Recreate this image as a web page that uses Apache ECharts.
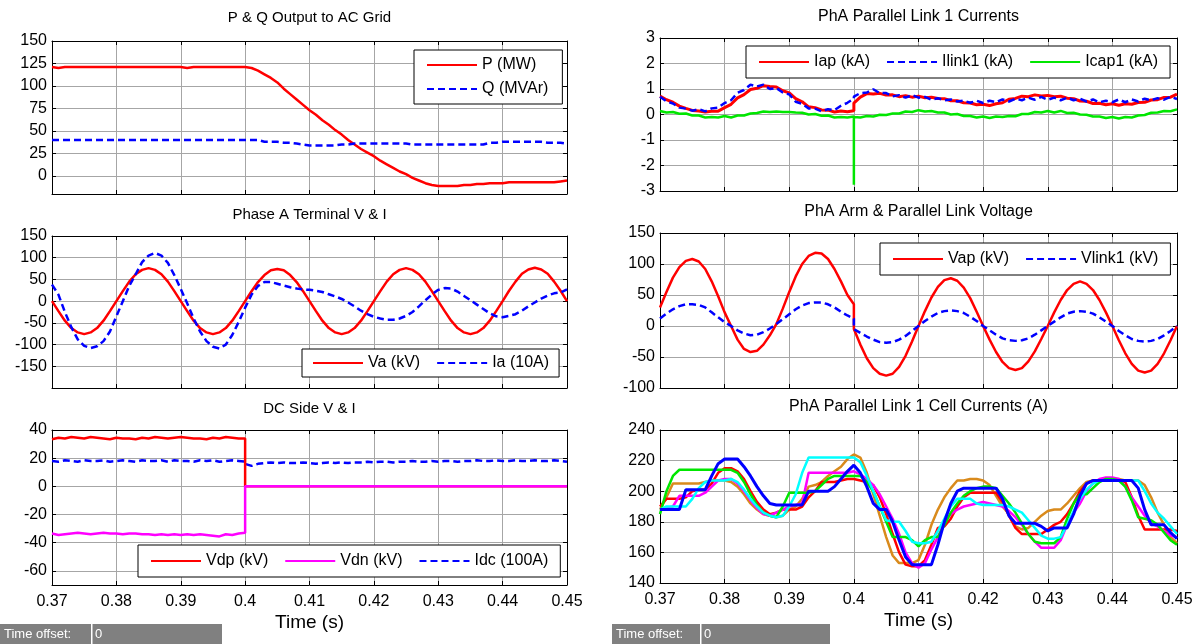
<!DOCTYPE html>
<html><head><meta charset="utf-8">
<script src="https://cdn.jsdelivr.net/npm/echarts@6/dist/echarts.min.js"></script>
<style>html,body{margin:0;padding:0;background:#fff}#chart{width:1200px;height:644px}</style>
</head><body><div id="chart"></div>
<script>
const FONT = 'Liberation Sans, Arial, sans-serif';

// ---------- time base (s) ----------
const time = [
 0.370,0.371,0.372,0.373,0.374,0.375,0.376,0.377,0.378,0.379,
 0.380,0.381,0.382,0.383,0.384,0.385,0.386,0.387,0.388,0.389,
 0.390,0.391,0.392,0.393,0.394,0.395,0.396,0.397,0.398,0.399,
 0.400,0.401,0.402,0.403,0.404,0.405,0.406,0.407,0.408,0.409,
 0.410,0.411,0.412,0.413,0.414,0.415,0.416,0.417,0.418,0.419,
 0.420,0.421,0.422,0.423,0.424,0.425,0.426,0.427,0.428,0.429,
 0.430,0.431,0.432,0.433,0.434,0.435,0.436,0.437,0.438,0.439,
 0.440,0.441,0.442,0.443,0.444,0.445,0.446,0.447,0.448,0.449,
 0.450];
// same grid with the switching instant 0.400 s sampled twice / three times
const timeStep = time.slice(0,31).concat([0.400], time.slice(31));
const timeSpike = time.slice(0,31).concat([0.400, 0.400], time.slice(31));

// ---------- tick labels ----------
const timeTicks = [0.37,0.38,0.39,0.40,0.41,0.42,0.43,0.44,0.45];
const pqTicks = [0,25,50,75,100,125,150];
const vaTicks = [-150,-100,-50,0,50,100,150];
const dcTicks = [-60,-40,-20,0,20,40];
const linkTicks = [-3,-2,-1,0,1,2,3];
const armTicks = [-100,-50,0,50,100,150];
const cellTicks = [140,160,180,200,220,240];

// ---------- P & Q ----------
const pMW = [
 121,120,121,121,121,121,121,121,121,121,
 121,121,121,121,121,121,121,121,121,121,
 121,120,121,121,121,121,121,121,121,121,
 121,120,117,113,109,104,97,91,85,79,
 73,68,62,57,51,46,40,35,30,26,
 22,17,13,9,5,2,-2,-5,-8,-10,
 -11,-11,-11,-11,-10,-10,-9,-9,-8,-8,
 -8,-7,-7,-7,-7,-7,-7,-7,-7,-6,
 -5];
const qMVAr = [
 40,40,40,40,40,40,40,40,40,40,
 40,40,40,40,40,40,40,40,40,40,
 40,40,40,40,40,40,40,40,40,40,
 40,40,40,38,38,38,37,37,36,35,
 34,34,34,34,34,35,35,36,36,36,
 36,36,36,36,36,36,35,35,35,35,
 35,35,35,35,35,35,35,35,37,37,
 38,38,38,38,38,38,38,37,37,37,
 36];

// ---------- Phase A terminal ----------
const vaKV = [
 0,-23,-45,-62,-72,-76,-72,-62,-45,-23,
 0,23,45,62,72,76,72,62,45,23,
 0,-23,-45,-62,-72,-76,-72,-62,-45,-23,
 0,23,44,60,71,74,71,60,44,23,
 0,-23,-45,-62,-72,-76,-72,-62,-45,-23,
 0,23,45,62,72,76,72,62,45,23,
 0,-23,-45,-62,-72,-76,-72,-62,-45,-23,
 0,24,45,63,73,77,73,63,45,24,
 0];
const ia10A = [
 38,15,-25,-60,-88,-103,-108,-104,-92,-70,
 -35,0,35,62,90,105,111,105,88,60,
 28,-5,-40,-70,-92,-105,-109,-100,-78,-48,
 -15,15,35,44,44,40,36,32,29,27,
 26,24,21,16,11,5,-3,-12,-22,-30,
 -36,-40,-43,-43,-40,-34,-25,-12,2,15,
 26,30,29,22,12,2,-8,-18,-28,-35,
 -37,-34,-30,-22,-12,-3,6,13,18,20,
 27];

// ---------- DC side (timeStep) ----------
const vdpKV = [
 33.5,34.5,34,35,34.5,34,35,34.5,34,33.5,
 34.5,34,34,33.5,34.5,34,35,34.5,34,34.5,
 35,34.5,34,34,33.5,34.5,34,35,34.5,34,
 34,
 0,
 0,0,0,0,0,0,0,0,0,0,
 0,0,0,0,0,0,0,0,0,0,
 0,0,0,0,0,0,0,0,0,0,
 0,0,0,0,0,0,0,0,0,0,
 0,0,0,0,0,0,0,0,0,0];
const vdnKV = [
 -33.5,-34.5,-34,-33.5,-33,-33.5,-34,-33.5,-33,-33.5,
 -33.5,-34,-33.5,-33.5,-34,-34,-34.5,-34,-34.5,-34,
 -34.5,-34,-34.5,-34,-34.5,-35,-35.5,-34,-34.5,-33.5,
 -33,
 0,
 0,0,0,0,0,0,0,0,0,0,
 0,0,0,0,0,0,0,0,0,0,
 0,0,0,0,0,0,0,0,0,0,
 0,0,0,0,0,0,0,0,0,0,
 0,0,0,0,0,0,0,0,0,0];
const idc100A = [
 18,17.5,18.5,18,17.5,18.5,18,18,18.5,17.5,
 18,18.5,18,17.5,18.5,18,18,18.5,17.5,18.5,
 18,18,17.5,18.5,18,18.5,17.5,18,18.5,18,
 17.5,
 16,
 14.5,16,16.5,17,16.5,17,16.5,16.5,17,16.5,
 16,16.5,17,16.5,17,16.5,17,17,17.5,17,
 17.5,17.5,17,17.5,17.5,18,17.5,17.5,18,17.5,
 18,18,17.5,18,18,18.5,18,18,18.5,18,
 18,18.5,18,18,18.5,18,18,18.5,18,17.5];

// ---------- Parallel link currents (timeSpike) ----------
const iapKA = [
 .72,.58,.48,.33,.24,.16,.14,.1,.13,.13,
 .27,.4,.65,.78,.98,1.03,1.13,1.1,1.08,.93,
 .85,.62,.5,.3,.27,.18,.17,.1,.14,.11,
 .15,
 .3,.45,
 .68,.82,.8,.83,.76,.77,.7,.74,.68,.72,
 .66,.68,.63,.62,.54,.54,.46,.45,.38,.4,
 .35,.42,.46,.6,.63,.72,.7,.77,.73,.75,
 .7,.72,.64,.62,.53,.52,.43,.44,.38,.42,
 .36,.42,.4,.47,.48,.57,.58,.67,.68,.8];
const ilinkKA = [
 .7,.52,.43,.27,.23,.15,.21,.12,.24,.27,
 .45,.56,.85,.96,1.17,1.1,1.17,1.0,1.04,.86,
 .79,.5,.42,.24,.23,.12,.21,.17,.34,.46,
 .62,
 .65,.7,
 .84,.86,.99,.84,.84,.71,.76,.66,.76,.66,
 .69,.58,.64,.56,.59,.51,.54,.46,.54,.45,
 .54,.48,.59,.51,.62,.56,.66,.58,.69,.58,
 .66,.56,.66,.56,.62,.51,.59,.48,.54,.48,
 .59,.48,.59,.51,.62,.56,.64,.58,.69,.61];
const icapKA = [
 .14,.08,.1,.03,.04,-.04,-.04,-.12,-.1,-.12,
 -.06,-.12,-.04,-.04,.04,.06,.12,.1,.12,.1,
 .1,.08,.07,0,.02,-.05,-.04,-.12,-.1,-.12,
 -.08,
 -2.75,-.1,
 -.12,-.06,-.08,-.01,-.02,.04,.04,.12,.1,.17,
 .12,.14,.08,.08,0,.02,-.06,-.06,-.12,-.08,
 -.14,-.08,-.1,-.06,-.07,.02,.02,.1,.08,.14,
 .08,.14,.06,.07,0,-.01,-.08,-.08,-.14,-.1,
 -.16,-.1,-.12,-.04,-.02,.07,.08,.14,.13,.2];

// ---------- Arm & link voltage (timeStep) ----------
const vapKV = [
 30,55,78,95,105,108,104,92,72,48,
 22,0,-22,-37,-42,-40,-30,-15,3,28,
 55,80,100,113,118,117,108,92,72,50,
 35,
 -5,
 -30,-52,-68,-77,-80,-77,-66,-48,-25,0,
 24,46,63,74,77,73,62,45,23,0,
 -22,-42,-58,-68,-71,-68,-57,-41,-21,0,
 22,42,58,68,72,68,58,42,22,0,
 -23,-44,-61,-72,-75,-72,-61,-44,-23,0];
const vlinkKV = [
 12,20,27,32,35,35,34,30,22,14,
 6,0,-7,-12,-15,-14,-10,-4,3,11,
 19,27,33,37,38,38,35,30,23,17,
 12,
 -5,
 -11,-17,-22,-26,-27,-26,-22,-16,-8,0,
 8,15,21,24,25,24,21,15,8,0,
 -7,-14,-20,-23,-24,-23,-20,-14,-7,0,
 7,14,20,23,24,23,20,14,7,0,
 -8,-15,-21,-24,-25,-24,-21,-15,-8,0];

// ---------- Cell currents (A) ----------
const cellOrange = [
 188,196,205,205,205,205,205,206,207,207,
 207,206,203,198,192,188,185,184,183,184,
 188,190,195,203,204,206,210,213,216,221,
 224,222,212,198,184,170,158,153,153,153,
 155,165,178,188,196,202,207,207,208,208,
 207,204,197,190,185,177,175,176,180,184,
 187,188,188,192,197,202,206,207,207,208,
 208,208,207,207,207,204,196,186,178,170,
 166];
const cellRed = [
 190,195,195,195,196,200,201,201,205,212,
 215,215,213,208,200,193,188,185,186,188,
 188,188,190,196,200,206,206,206,207,208,
 208,207,206,204,196,185,172,160,152,151,
 151,155,165,176,177,182,190,196,199,199,
 199,199,199,193,184,176,172,172,172,172,
 175,178,180,185,192,200,205,207,207,207,
 207,207,206,196,184,175,175,175,175,175,
 174];
const cellMagenta = [
 188,189,190,197,197,197,197,199,203,207,
 208,208,205,200,194,189,185,184,186,188,
 190,191,192,212,212,212,212,212,212,212,
 213,211,208,204,198,190,182,172,160,153,
 150,153,162,170,180,185,188,190,191,192,
 193,192,191,190,187,183,178,172,167,163,
 163,163,168,178,186,192,200,205,208,209,
 209,208,203,196,190,184,179,177,174,171,
 170];
const cellGreen = [
 185,200,210,214,214,214,214,214,214,214,
 214,214,212,206,198,191,186,184,183,190,
 199,199,199,199,200,204,208,210,210,210,
 210,210,206,200,190,180,170,170,170,168,
 164,168,170,170,178,186,192,197,200,202,
 203,203,202,197,192,186,179,172,167,166,
 166,166,170,182,192,198,198,202,206,208,
 208,207,203,194,183,182,181,178,173,168,
 165];
const cellCyan = [
 188,190,190,190,190,195,202,206,207,207,
 207,208,206,201,195,190,186,184,183,184,
 190,198,212,222,222,222,222,222,222,222,
 222,219,210,200,190,181,180,180,174,167,
 166,166,167,174,182,190,195,195,195,192,
 191,191,191,191,190,188,186,181,176,171,
 169,169,170,178,187,195,201,205,207,207,
 207,207,207,207,207,200,192,186,182,177,
 172];
const cellBlue = [
 188,188,188,188,201,201,201,201,210,218,
 221,221,221,216,210,203,197,192,191,191,
 191,191,191,200,200,200,200,203,208,213,
 217,212,203,192,188,188,180,168,157,152,
 152,152,152,165,180,192,200,202,202,202,
 202,202,202,195,184,179,179,179,179,177,
 174,176,176,176,185,197,205,207,207,207,
 207,207,207,207,202,188,178,178,178,173,
 169];

// ---------- build ----------
const pairs = (t, v) => v.map((y, i) => [t[i], y]);

const panels = [
  {title:'P & Q Output to AC Grid', tsize:15, ttop:10, grid:{left:52,top:41,width:515,height:153}, y:[-20,150], yt:pqTicks, xl:false},
  {title:'Phase A Terminal V & I', tsize:15, ttop:207, grid:{left:52,top:236,width:515,height:152}, y:[-200,150], yt:vaTicks, xl:false},
  {title:'DC Side V & I', tsize:15, ttop:401, grid:{left:52,top:430,width:515,height:155}, y:[-70,40], yt:dcTicks, xl:true},
  {title:'PhA Parallel Link 1 Currents', tsize:16, ttop:9, grid:{left:660,top:38,width:517,height:153}, y:[-3,3], yt:linkTicks, xl:false},
  {title:'PhA Arm & Parallel Link Voltage', tsize:16, ttop:204, grid:{left:660,top:233,width:517,height:155}, y:[-100,150], yt:armTicks, xl:false},
  {title:'PhA Parallel Link 1 Cell Currents (A)', tsize:16, ttop:399, grid:{left:660,top:430,width:517,height:153}, y:[140,240], yt:cellTicks, xl:true}
];

const grids = [], xAxis = [], yAxis = [], title = [];
const axLine = {show:true, onZero:false, lineStyle:{color:'#000', width:1}};
const split = {show:true, lineStyle:{color:'#a6a6a6', width:1}};
const lab = {fontSize:16, color:'#000', fontFamily:FONT};
panels.forEach((p, i) => {
  grids.push(Object.assign({containLabel:false}, p.grid));
  title.push({text:p.title, left:p.grid.left + p.grid.width/2, top:p.ttop, textAlign:'center', padding:0,
    textStyle:{fontSize:p.tsize, fontWeight:'normal', color:'#000', fontFamily:FONT}});
  const tk = (vals) => ({show:true, inside:true, length:4, lineStyle:{color:'#000'}, customValues:vals});
  xAxis.push({type:'value', gridIndex:i, position:'bottom', min:0.37, max:0.45,
    axisLine:axLine, axisTick:tk(timeTicks), splitLine:split,
    axisLabel:Object.assign({show:p.xl, customValues:timeTicks, margin:9, formatter:v => String(+(+v).toFixed(2))}, lab),
    name:p.xl ? 'Time (s)' : '', nameLocation:'middle', nameGap:28,
    nameTextStyle:{fontSize:19, color:'#000', fontFamily:FONT}});
  xAxis.push({type:'value', gridIndex:i, position:'top', min:0.37, max:0.45,
    axisLine:axLine, axisTick:tk(timeTicks), splitLine:{show:false}, axisLabel:{show:false}});
  yAxis.push({type:'value', gridIndex:i, position:'left', min:p.y[0], max:p.y[1],
    axisLine:axLine, axisTick:tk(p.yt), splitLine:split,
    axisLabel:Object.assign({show:true, customValues:p.yt, margin:5}, lab)});
  yAxis.push({type:'value', gridIndex:i, position:'right', min:p.y[0], max:p.y[1],
    axisLine:axLine, axisTick:tk(p.yt), splitLine:{show:false}, axisLabel:{show:false}});
});

const RED = '#ff0000', BLUE = '#0000ff', GREEN = '#00e600', MAG = '#ff00ff', CYAN = '#00ffff', ORANGE = '#d98a1c';
const DASH = [7, 4];
function line(name, panel, data, color, width, dashed, z) {
  return {name, type:'line', xAxisIndex:2*panel, yAxisIndex:2*panel, data, symbol:'none', clip:true,
    z: z || 2, lineStyle:{color, width, type: dashed ? DASH : 'solid'}, itemStyle:{color}, animation:false};
}
const series = [
  line('P (MW)', 0, pairs(time, pMW), RED, 2.5),
  line('Q (MVAr)', 0, pairs(time, qMVAr), BLUE, 2.5, true),
  line('Va (kV)', 1, pairs(time, vaKV), RED, 2.5),
  line('Ia (10A)', 1, pairs(time, ia10A), BLUE, 2.5, true),
  line('Idc (100A)', 2, pairs(timeStep, idc100A), BLUE, 2.5, true),
  line('Vdp (kV)', 2, pairs(timeStep, vdpKV), RED, 2.5),
  line('Vdn (kV)', 2, pairs(timeStep, vdnKV), MAG, 2.5),
  line('Iap (kA)', 3, pairs(timeSpike, iapKA), RED, 3),
  line('Ilink1 (kA)', 3, pairs(timeSpike, ilinkKA), BLUE, 2.5, true),
  line('Icap1 (kA)', 3, pairs(timeSpike, icapKA), GREEN, 2.5),
  line('Vap (kV)', 4, pairs(timeStep, vapKV), RED, 2.5),
  line('Vlink1 (kV)', 4, pairs(timeStep, vlinkKV), BLUE, 2.5, true),
  line('cell orange', 5, pairs(time, cellOrange), ORANGE, 2.5),
  line('cell red', 5, pairs(time, cellRed), RED, 2.5),
  line('cell magenta', 5, pairs(time, cellMagenta), MAG, 2.5),
  line('cell green', 5, pairs(time, cellGreen), GREEN, 2.5),
  line('cell cyan', 5, pairs(time, cellCyan), CYAN, 2.5),
  line('cell blue', 5, pairs(time, cellBlue), BLUE, 3)
];

const legBase = {borderColor:'#000', borderWidth:1, backgroundColor:'#fff', itemWidth:50, itemHeight:14,
  itemGap:16, selectedMode:false, padding:[8,12,8,12], textStyle:{fontSize:16, color:'#000', fontFamily:FONT}, z:10,
  itemStyle:{opacity:0, borderWidth:0}};
const legend = [
  Object.assign({}, legBase, {data:['P (MW)','Q (MVAr)'], orient:'vertical', left:414, top:50, itemGap:8, padding:[7,14,7,12]}),
  Object.assign({}, legBase, {data:['Va (kV)','Ia (10A)'], left:302, top:349, padding:[6,10,6,10]}),
  Object.assign({}, legBase, {data:['Vdp (kV)','Vdn (kV)','Idc (100A)'], left:138, top:545}),
  Object.assign({}, legBase, {data:['Iap (kA)','Ilink1 (kA)','Icap1 (kA)'], left:746, top:46}),
  Object.assign({}, legBase, {data:['Vap (kV)','Vlink1 (kV)'], left:880, top:243})
];

const offsetBox = (x0, sep, x1) => [
  {type:'rect', shape:{x:x0, y:624, width:x1-x0, height:20}, style:{fill:'#808080'}},
  {type:'rect', shape:{x:sep, y:624, width:1.5, height:20}, style:{fill:'#ffffff'}},
  {type:'text', x:x0+4, y:634, style:{text:'Time offset:', fill:'#fff', font:'13px ' + FONT, verticalAlign:'middle'}},
  {type:'text', x:sep+4, y:634, style:{text:'0', fill:'#fff', font:'13px ' + FONT, verticalAlign:'middle'}}
];

const chart = echarts.init(document.getElementById('chart'), null, {renderer:'canvas'});
chart.setOption({
  animation:false, backgroundColor:'#fff',
  title, grid:grids, xAxis, yAxis, series, legend,
  graphic: offsetBox(0, 91, 222).concat(offsetBox(612, 700, 830))
});
</script></body></html>
